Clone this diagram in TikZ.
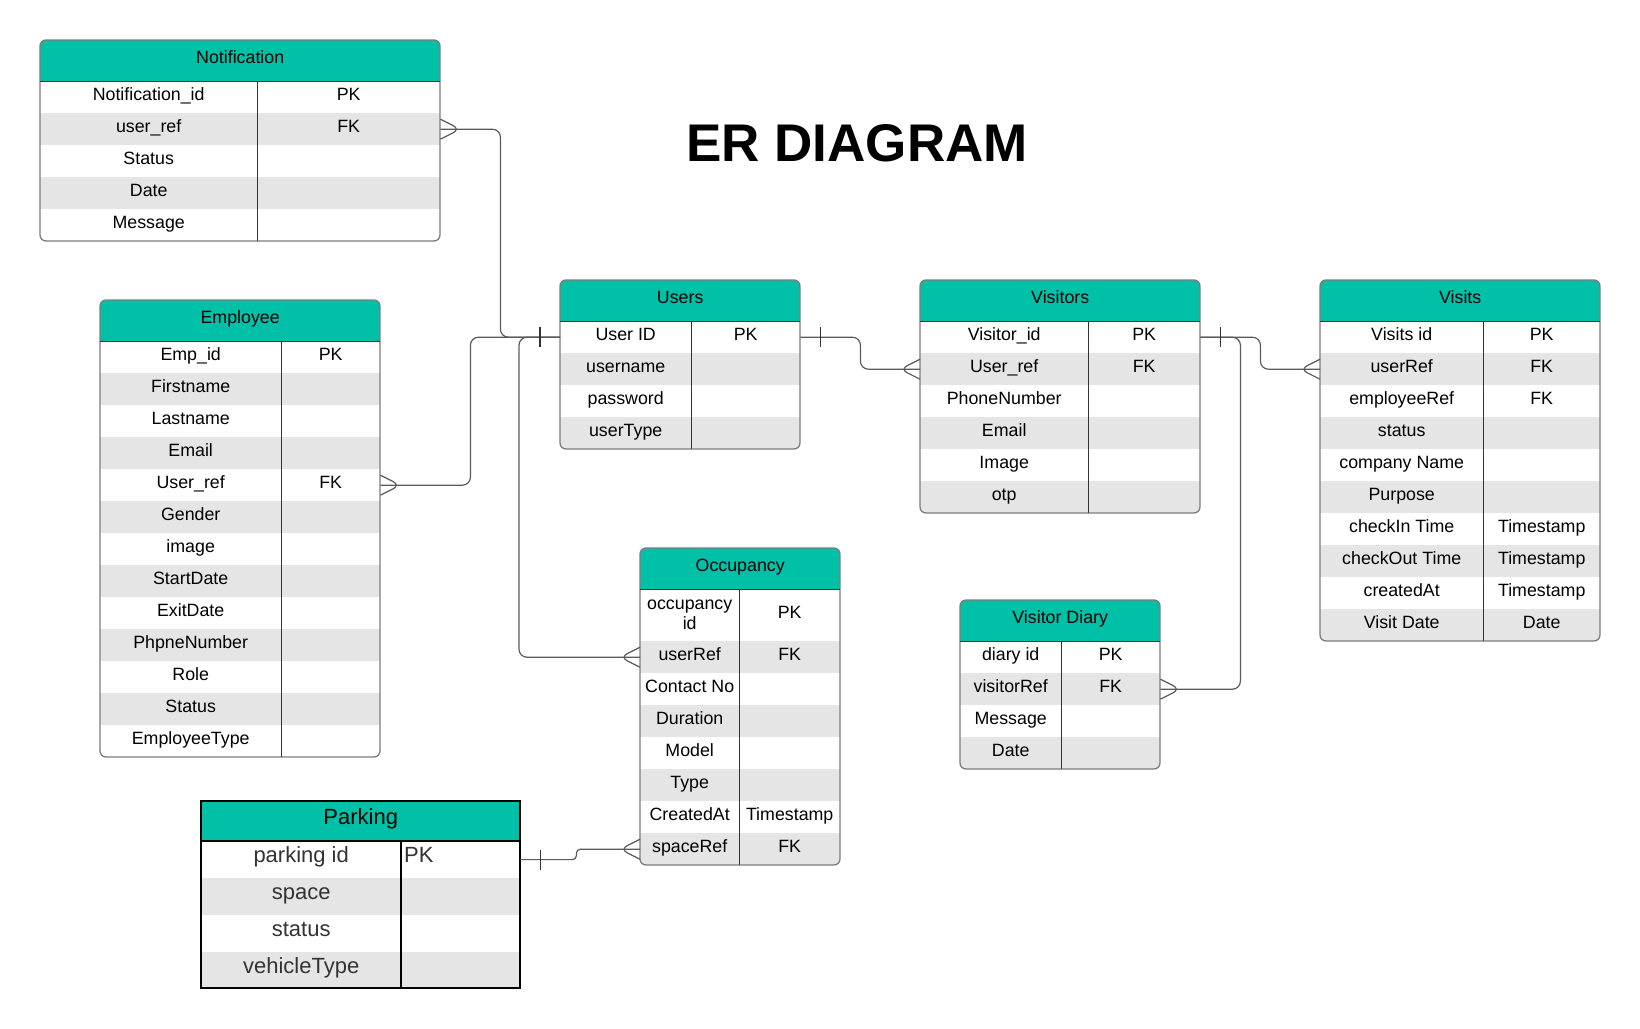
\documentclass[tikz,border=0pt]{standalone}
\usepackage{fontspec}
\setmainfont{Liberation Sans}
\usepackage{tikz}
\usetikzlibrary{positioning}
\definecolor{headcolor}{RGB}{0, 193, 168}
\definecolor{rowgray}{RGB}{229, 229, 229}
\definecolor{bordercolor}{RGB}{125, 125, 125}
\definecolor{linecolor}{RGB}{90, 90, 90}
\definecolor{parktext}{RGB}{51, 51, 51}
\tikzset{
headbox/.style={
  fill=headcolor,
  minimum height=41,
  inner sep=0pt,
  text height=12,
  text depth=6,
  anchor=north west,
  font=\fontsize{17.8}{21}\selectfont
},
cell/.style={
  minimum height=32,
  inner sep=0pt,
  text height=12,
  text depth=6,
  anchor=north west,
  font=\fontsize{17.8}{21}\selectfont
},
parkcell/.style={
  cell,
  minimum height=36.8,
  text height=15,
  text depth=9,
  text=parktext,
  font=\fontsize{22}{26}\selectfont
},
tblborder/.style={
  draw=bordercolor,
  line width=1.3pt,
  rounded corners=6
},
divline/.style={
  draw=black!80,
  line width=1pt
},
conn/.style={
  draw=linecolor,
  line width=1.2pt,
  rounded corners=8
},
onemark/.style={
  draw=black!80,
  line width=1.2pt
}
}
\begin{document}
\begin{tikzpicture}[x=1pt, y=-1pt]
\useasboundingbox (0,0) rectangle (1640,1028);

\node[font=\fontsize{53}{60}\selectfont\bfseries] (title) at (857,143) {ER DIAGRAM};

% Notification
\begin{scope}
  \clip[rounded corners=6] (40,40) rectangle (440,241);
  \node[headbox, minimum width=400] (notif) at (40,40) {Notification};
  \foreach \fld/\tag [count=\i] in {Notification\_id/PK, user\_ref/FK, Status/, Date/, Message/} {
    \pgfmathtruncatemacro\shade{isodd(\i) ? 0 : 100}
    \node[cell, fill=rowgray!\shade!white, minimum width=217] (notif-\i) at (40,{81+32*(\i-1)}) {\fld};
    \node[cell, fill=rowgray!\shade!white, minimum width=183] (notif-\i-k) at (257,{81+32*(\i-1)}) {\tag};
  }
\end{scope}
\draw[tblborder] (40,40) rectangle (440,241);
\draw[divline] (40,81) -- (440,81) (257,81) -- (257,241);

% Employee
\begin{scope}
  \clip[rounded corners=6] (100,300) rectangle (380,757);
  \node[headbox, minimum width=280] (emp) at (100,300) {Employee};
  \foreach \fld/\tag [count=\i] in {Emp\_id/PK, Firstname/, Lastname/, Email/, User\_ref/FK, Gender/, image/, StartDate/, ExitDate/, PhpneNumber/, Role/, Status/, EmployeeType/} {
    \pgfmathtruncatemacro\shade{isodd(\i) ? 0 : 100}
    \node[cell, fill=rowgray!\shade!white, minimum width=181] (emp-\i) at (100,{341+32*(\i-1)}) {\fld};
    \node[cell, fill=rowgray!\shade!white, minimum width=99] (emp-\i-k) at (281,{341+32*(\i-1)}) {\tag};
  }
\end{scope}
\draw[tblborder] (100,300) rectangle (380,757);
\draw[divline] (100,341) -- (380,341) (281,341) -- (281,757);

% Users
\begin{scope}
  \clip[rounded corners=6] (560,280) rectangle (800,449);
  \node[headbox, minimum width=240] (users) at (560,280) {Users};
  \foreach \fld/\tag [count=\i] in {User ID/PK, username/, password/, userType/} {
    \pgfmathtruncatemacro\shade{isodd(\i) ? 0 : 100}
    \node[cell, fill=rowgray!\shade!white, minimum width=131] (users-\i) at (560,{321+32*(\i-1)}) {\fld};
    \node[cell, fill=rowgray!\shade!white, minimum width=109] (users-\i-k) at (691,{321+32*(\i-1)}) {\tag};
  }
\end{scope}
\draw[tblborder] (560,280) rectangle (800,449);
\draw[divline] (560,321) -- (800,321) (691,321) -- (691,449);

% Visitors
\begin{scope}
  \clip[rounded corners=6] (920,280) rectangle (1200,513);
  \node[headbox, minimum width=280] (visr) at (920,280) {Visitors};
  \foreach \fld/\tag [count=\i] in {Visitor\_id/PK, User\_ref/FK, PhoneNumber/, Email/, Image/, otp/} {
    \pgfmathtruncatemacro\shade{isodd(\i) ? 0 : 100}
    \node[cell, fill=rowgray!\shade!white, minimum width=168] (visr-\i) at (920,{321+32*(\i-1)}) {\fld};
    \node[cell, fill=rowgray!\shade!white, minimum width=112] (visr-\i-k) at (1088,{321+32*(\i-1)}) {\tag};
  }
\end{scope}
\draw[tblborder] (920,280) rectangle (1200,513);
\draw[divline] (920,321) -- (1200,321) (1088,321) -- (1088,513);

% Visits
\begin{scope}
  \clip[rounded corners=6] (1320,280) rectangle (1600,641);
  \node[headbox, minimum width=280] (vsts) at (1320,280) {Visits};
  \foreach \fld/\tag [count=\i] in {Visits id/PK, userRef/FK, employeeRef/FK, status/, company Name/, Purpose/, checkIn Time/Timestamp, checkOut Time/Timestamp, createdAt/Timestamp, Visit Date/Date} {
    \pgfmathtruncatemacro\shade{isodd(\i) ? 0 : 100}
    \node[cell, fill=rowgray!\shade!white, minimum width=163] (vsts-\i) at (1320,{321+32*(\i-1)}) {\fld};
    \node[cell, fill=rowgray!\shade!white, minimum width=117] (vsts-\i-k) at (1483,{321+32*(\i-1)}) {\tag};
  }
\end{scope}
\draw[tblborder] (1320,280) rectangle (1600,641);
\draw[divline] (1320,321) -- (1600,321) (1483,321) -- (1483,641);

% Occupancy
\begin{scope}
  \clip[rounded corners=6] (640,548) rectangle (840,865);
  \node[headbox, minimum width=200] (occ) at (640,548) {Occupancy};
  \node[cell, minimum width=99, minimum height=52, text height=, text depth=, align=center, font=\fontsize{17.8}{20}\selectfont] (occ-1) at (640,589) {occupancy\\id};
  \node[cell, minimum width=101, minimum height=52] (occ-1-k) at (739,589) {PK};
  \foreach \fld/\tag [count=\i from 2] in {userRef/FK, Contact No/, Duration/, Model/, Type/, CreatedAt/Timestamp, spaceRef/FK} {
    \pgfmathtruncatemacro\shade{isodd(\i) ? 0 : 100}
    \node[cell, fill=rowgray!\shade!white, minimum width=99] (occ-\i) at (640,{641+32*(\i-2)}) {\fld};
    \node[cell, fill=rowgray!\shade!white, minimum width=101] (occ-\i-k) at (739,{641+32*(\i-2)}) {\tag};
  }
\end{scope}
\draw[tblborder] (640,548) rectangle (840,865);
\draw[divline] (640,589) -- (840,589) (739,589) -- (739,865);

% Visitor Diary
\begin{scope}
  \clip[rounded corners=6] (960,600) rectangle (1160,769);
  \node[headbox, minimum width=200] (diary) at (960,600) {Visitor Diary};
  \foreach \fld/\tag [count=\i] in {diary id/PK, visitorRef/FK, Message/, Date/} {
    \pgfmathtruncatemacro\shade{isodd(\i) ? 0 : 100}
    \node[cell, fill=rowgray!\shade!white, minimum width=101] (diary-\i) at (960,{641+32*(\i-1)}) {\fld};
    \node[cell, fill=rowgray!\shade!white, minimum width=99] (diary-\i-k) at (1061,{641+32*(\i-1)}) {\tag};
  }
\end{scope}
\draw[tblborder] (960,600) rectangle (1160,769);
\draw[divline] (960,641) -- (1160,641) (1061,641) -- (1061,769);

% Parking
\node[headbox, minimum width=319, minimum height=40, text height=15, text depth=9, font=\fontsize{22}{26}\selectfont] (park) at (201,801) {Parking};
\foreach \fld/\tag [count=\i] in {parking id/PK, space/, status/, vehicleType/} {
  \pgfmathtruncatemacro\shade{isodd(\i) ? 0 : 100}
  \node[parkcell, fill=rowgray!\shade!white, minimum width=200] (park-\i) at (201,{841+36.8*(\i-1)}) {\fld};
  \node[parkcell, fill=rowgray!\shade!white, minimum width=119, text width=113, align=left] (park-\i-k) at (401,{841+36.8*(\i-1)}) {\tag};
}
\draw[black, line width=1.5pt] (201,801) rectangle (520,988.2);
\draw[black, line width=1.3pt] (201,841) -- (520,841) (401,841) -- (401,988.2);

% relations
\draw[conn] (notif-2-k.east) -- ++(60,0) |- (users-1.west);
\draw[conn] (emp-5-k.east) -- ++(90,0) |- (users-1.west);
\draw[conn] (users-1.west) -- ++(-41,0) |- (occ-2.west);
\draw[conn] (users-1-k.east) -- ++(60,0) |- (visr-2.west);
\draw[conn] (visr-1-k.east) -- ++(60,0) |- (vsts-2.west);
\draw[conn] (visr-1-k.east) -- ++(40,0) |- (diary-2-k.east);
\draw[conn, rounded corners=4] (park-1-k.east) -- ++(56,0) |- (occ-8.west);

% one marks
\draw[onemark] ([xshift=-20, yshift=10]users-1.west) -- ([xshift=-20, yshift=-10]users-1.west);
\draw[onemark] ([xshift=20, yshift=10]users-1-k.east) -- ([xshift=20, yshift=-10]users-1-k.east);
\draw[onemark] ([xshift=20, yshift=10]visr-1-k.east) -- ([xshift=20, yshift=-10]visr-1-k.east);
\draw[onemark] ([xshift=20, yshift=10]park-1-k.east) -- ([xshift=20, yshift=-10]park-1-k.east);

% many marks
\draw[conn] ([yshift=10]notif-2-k.east) -- ([xshift=20]notif-2-k.east) -- ([yshift=-10]notif-2-k.east);
\draw[conn] ([yshift=10]emp-5-k.east) -- ([xshift=20]emp-5-k.east) -- ([yshift=-10]emp-5-k.east);
\draw[conn] ([yshift=10]diary-2-k.east) -- ([xshift=20]diary-2-k.east) -- ([yshift=-10]diary-2-k.east);
\draw[conn] ([yshift=10]occ-2.west) -- ([xshift=-20]occ-2.west) -- ([yshift=-10]occ-2.west);
\draw[conn] ([yshift=10]occ-8.west) -- ([xshift=-20]occ-8.west) -- ([yshift=-10]occ-8.west);
\draw[conn] ([yshift=10]visr-2.west) -- ([xshift=-20]visr-2.west) -- ([yshift=-10]visr-2.west);
\draw[conn] ([yshift=10]vsts-2.west) -- ([xshift=-20]vsts-2.west) -- ([yshift=-10]vsts-2.west);
\end{tikzpicture}
\end{document}
